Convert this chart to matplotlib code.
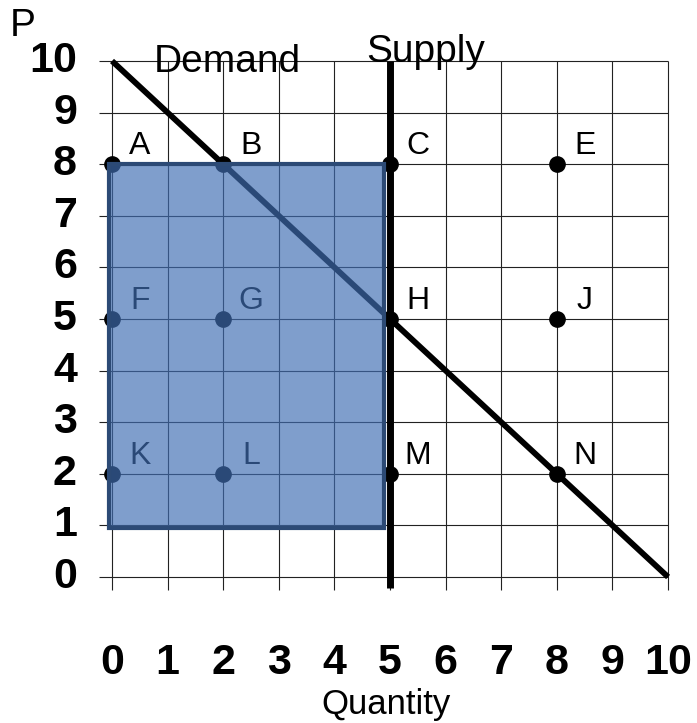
import matplotlib
matplotlib.use("Agg")
import matplotlib.pyplot as plt
from matplotlib.patches import Rectangle
from matplotlib.colors import to_rgba

plt.rcParams['font.family'] = ['Liberation Sans', 'DejaVu Sans']

# ---- data ----
point_labels = ['A', 'B', 'C', 'E', 'F', 'G', 'H', 'J', 'K', 'L', 'M', 'N']
point_q = [0, 2, 5, 8, 0, 2, 5, 8, 0, 2, 5, 8]
point_p = [8, 8, 8, 8, 5, 5, 5, 5, 2, 2, 2, 2]
demand_q = [0, 10]
demand_p = [10, 0]
supply_q = [5, 5]
supply_p = [10, -0.22]
x_ticks = list(range(0, 11))
y_ticks = list(range(0, 11))
rect_q = (-0.05, 4.9)
rect_p = (0.95, 8.0)

fig = plt.figure(figsize=(6.97, 7.23), dpi=100)
ax = fig.add_axes([0.1288, 0.1734, 0.8616, 0.7708])
ax.set_xlim(-0.4, 10.4)
ax.set_ylim(-0.4, 10.4)
ax.axis('off')

grid_c = '#222222'
for x in x_ticks:
    ax.plot([x, x], [-0.25, 10], color=grid_c, lw=0.8, zorder=1, solid_capstyle='butt')
for y in y_ticks:
    ax.plot([-0.23, 10], [y, y], color=grid_c, lw=0.8, zorder=1, solid_capstyle='butt')

# demand
ax.plot(demand_q, demand_p, color='black', lw=4.2, zorder=2, solid_capstyle='butt')

# points
ax.plot(point_q, point_p, 'o', color='black', ms=11, zorder=3, linestyle='none')
for lab, q, p in zip(point_labels, point_q, point_p):
    ax.annotate(lab, (q, p), xytext=(20, 13), textcoords='offset points',
                ha='center', va='center', fontsize=23, zorder=3)

# shaded rectangle
rect = Rectangle((rect_q[0], rect_p[0]), rect_q[1] - rect_q[0], rect_p[1] - rect_p[0],
                 facecolor=to_rgba('#406eb3', 0.67), edgecolor='#2c4a75', lw=3, zorder=4)
ax.add_patch(rect)

# supply
ax.plot(supply_q, supply_p, color='black', lw=5, zorder=5, solid_capstyle='butt')

# tick labels
for y in y_ticks:
    ax.text(-0.63, y, str(y), ha='right', va='center', fontsize=31, fontweight='bold')
for x in x_ticks:
    ax.text(x, -1.67, str(x), ha='center', va='center', fontsize=31, fontweight='bold')

ax.text(4.93, -2.48, 'Quantity', ha='center', va='center', fontsize=25)
ax.text(-1.6, 10.68, 'P', ha='center', va='center', fontsize=28)
ax.text(2.07, 9.79, 'Demand', ha='center', va='baseline', fontsize=28, zorder=6)
ax.text(5.65, 9.98, 'Supply', ha='center', va='baseline', fontsize=28, zorder=6)

fig.savefig('out.png', dpi=100)
